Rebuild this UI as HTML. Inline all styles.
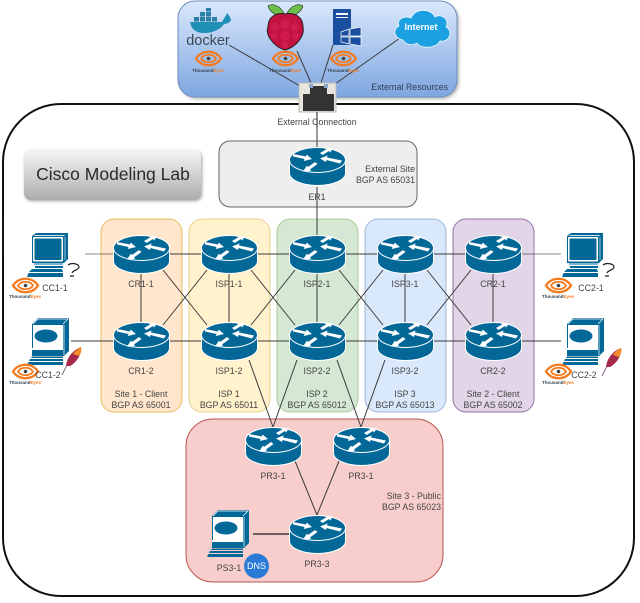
<!DOCTYPE html>
<html><head><meta charset="utf-8"><style>
html,body{margin:0;padding:0;background:#fff}
svg{display:block;filter:blur(.35px)}
text{font-family:"Liberation Sans",sans-serif;font-size:8.8px;fill:#444}
.c{text-anchor:middle}.r{text-anchor:end}
.te{font-size:4.500px;font-weight:bold;fill:#345;text-anchor:middle}
.te tspan{fill:#f47b20}
.l line{stroke:#3a3a3a;stroke-width:1}
</style></head><body>
<svg width="640" height="603" viewBox="0 0 640 603" xmlns="http://www.w3.org/2000/svg">
<defs>
<linearGradient id="g1" x1="0" y1="0" x2="0" y2="1"><stop offset="0" stop-color="#dae8fc"/><stop offset="1" stop-color="#7ea6e0"/></linearGradient>
<linearGradient id="g2" x1="0" y1="0" x2="0" y2="1"><stop offset="0" stop-color="#f6f6f6"/><stop offset="1" stop-color="#adadad"/></linearGradient>
<filter id="sh" x="-10%" y="-10%" width="120%" height="130%"><feGaussianBlur stdDeviation="1.500"/></filter>
<symbol id="router" width="57" height="39" viewBox="0 0 57 39" overflow="visible">
<path d="M.5 13V26C.5 33 13 38.500 28.500 38.500S56.500 33 56.500 26V13Z" fill="#036897" stroke="#fff"/>
<ellipse cx="28.500" cy="13" rx="28" ry="12.500" fill="#036897" stroke="#fff"/>
<path d="M4 7L17 9.500 17.500 7.500 23 12 15 14 15.500 12 4 9.500ZM31 6L37 2.500 36 1 44 1.500 41 5.500 40 4 33.500 8ZM53 13.500L38 10.500 38.500 8.500 31 11.500 37 15 37.500 13 51 16.500ZM26 15L19 20 18 18.500 14 24.500 22 24 21 22.500 28.500 17Z" fill="#fff"/>
</symbol>
<symbol id="eye" width="27" height="15" viewBox="0 0 27 15" overflow="visible">
<path d="M1 7.500C7-1.500 20-1.500 26 7.500C20 16.500 7 16.500 1 7.500Z" fill="none" stroke="#f47b20" stroke-width="2.300"/>
<path d="M6 7.500C9 2.500 18 2.500 21 7.500C18 12.500 9 12.500 6 7.500Z" fill="none" stroke="#f47b20" stroke-width="1.800"/>
<circle cx="13.500" cy="7.500" r="1.800" fill="#444"/>
</symbol>
<symbol id="pc1" width="54" height="44" viewBox="0 0 54 44" overflow="visible">
<path d="M5 3L9 0H41V26L37 30H5Z" fill="#036897"/>
<path d="M8 2H38.500L36.500 3.200H6.500Z" fill="#cfe2ec"/>
<rect x="5.500" y="3.500" width="31" height="25.500" rx="1.500" fill="#fff" stroke="#036897"/>
<rect x="7.500" y="5.500" width="27" height="21.500" rx="1" fill="#036897"/>
<path d="M38 4V27" stroke="#cfe2ec" stroke-width=".7"/>
<rect x="7" y="30" width="29" height="2" fill="#7fb2cc"/>
<rect x="8" y="33" width="28" height="2" fill="#036897"/>
<path d="M5 36H35L36 39H2ZM1.500 40H36V44H0Z" fill="#036897"/>
<path d="M41 32C45 29 52 31 52 34C52 37 46 37 45 40M43 43L47 43" fill="none" stroke="#222" stroke-width="1.200"/>
</symbol>
<symbol id="pc2" width="46" height="47" viewBox="0 0 46 47" overflow="visible">
<path d="M5 6L11 0H42V33L37 38H5Z" fill="#036897"/>
<path d="M6 6L11 1H41L36 6" fill="none" stroke="#fff" stroke-width=".7"/>
<path d="M37 7V37" stroke="#fff" stroke-width=".7"/>
<rect x="6" y="7" width="30" height="23" fill="#fff"/>
<ellipse cx="19" cy="18" rx="11.500" ry="6.500" fill="#036897"/>
<rect x="5" y="30" width="31" height="2" fill="#fff"/>
<path d="M5 38.500H36L36 40H4ZM3 41H36V43H2ZM1.500 44H36V47H0Z" fill="#036897"/>
</symbol>
<symbol id="feather" width="20" height="30" viewBox="0 0 20 30" overflow="visible">
<path d="M0 29L6 17" stroke="#8a6a8a" fill="none"/>
<path d="M4 20C5 11 11 4 19 1C20 8 15 16 8 20Z" fill="#a52a4a"/>
<path d="M11 8C13 5 16 2 19 1C20 4 19 7 17 10Z" fill="#f28c28"/>
</symbol>
</defs>

<rect x="180" y="3" width="279" height="96" rx="17" fill="#777" opacity=".55" filter="url(#sh)"/>
<rect x="178" y="1" width="279" height="96" rx="17" fill="url(#g1)" stroke="#6c8ebf"/>
<rect x="3" y="104" width="631" height="492" rx="58" fill="#fff" stroke="#111" stroke-width="2"/>

<rect x="219" y="141" width="198" height="66" rx="11" fill="#eee" stroke="#666"/>
<rect x="101" y="219" width="81" height="193" rx="13" fill="#ffe6cc" stroke="#d79b00" stroke-opacity=".6"/>
<rect x="189" y="219" width="81" height="193" rx="13" fill="#fff2cc" stroke="#d6b656" stroke-opacity=".6"/>
<rect x="277" y="219" width="81" height="193" rx="13" fill="#d5e8d4" stroke="#82b366" stroke-opacity=".6"/>
<rect x="365" y="219" width="81" height="193" rx="13" fill="#dae8fc" stroke="#6c8ebf" stroke-opacity=".6"/>
<rect x="453" y="219" width="81" height="193" rx="13" fill="#e1d5e7" stroke="#9673a6"/>
<rect x="186" y="419" width="257" height="163" rx="27" fill="#f8cecc" stroke="#b85450"/>

<rect x="25" y="151" width="177" height="50" rx="7" fill="#888" opacity=".8" filter="url(#sh)"/>
<rect x="24" y="149" width="177" height="51" rx="7" fill="url(#g2)"/>
<text x="113" y="180" class="c" style="font-size:17.500px;fill:#2a2a2a">Cisco Modeling Lab</text>

<g class="l">
<line x1="229" y1="45" x2="300" y2="86"/><line x1="297" y1="51" x2="311" y2="83"/>
<line x1="333" y1="45" x2="321" y2="83"/><line x1="400" y1="38" x2="335" y2="84"/>
<line x1="317" y1="112" x2="317" y2="147"/><line x1="317" y1="187" x2="317" y2="235"/>
<line x1="85" y1="254" x2="113" y2="254" stroke-opacity=".6"/><line x1="71" y1="341" x2="113" y2="341"/>
<line x1="169" y1="254" x2="201" y2="254"/><line x1="257" y1="254" x2="289" y2="254"/><line x1="345" y1="254" x2="377" y2="254"/><line x1="433" y1="254" x2="465" y2="254"/>
<line x1="169" y1="341" x2="201" y2="341"/><line x1="257" y1="341" x2="289" y2="341"/><line x1="345" y1="341" x2="377" y2="341"/><line x1="433" y1="341" x2="465" y2="341"/>
<line x1="521" y1="254" x2="561" y2="254" stroke-opacity=".6"/><line x1="521" y1="341" x2="561" y2="341"/>
<line x1="141" y1="273" x2="141" y2="322"/><line x1="229" y1="273" x2="229" y2="322"/><line x1="317" y1="273" x2="317" y2="322"/><line x1="405" y1="273" x2="405" y2="322"/><line x1="493" y1="273" x2="493" y2="322"/>
<line x1="163" y1="270" x2="207" y2="325"/><line x1="163" y1="325" x2="207" y2="270"/>
<line x1="251" y1="270" x2="295" y2="325"/><line x1="251" y1="325" x2="295" y2="270"/>
<line x1="339" y1="270" x2="383" y2="325"/><line x1="339" y1="325" x2="383" y2="270"/>
<line x1="427" y1="270" x2="471" y2="325"/><line x1="427" y1="325" x2="471" y2="270"/>
<line x1="249" y1="360" x2="273" y2="427"/><line x1="297" y1="360" x2="273" y2="427"/>
<line x1="337" y1="360" x2="361" y2="427"/><line x1="385" y1="360" x2="361" y2="427"/>
<line x1="295" y1="461" x2="317" y2="515"/><line x1="339" y1="461" x2="317" y2="515"/>
<line x1="253" y1="534" x2="289" y2="534" stroke="#666" style="stroke-width:1.500"/>
</g>

<use href="#router" x="289" y="147"/>
<use href="#router" x="113" y="235"/><use href="#router" x="201" y="235"/><use href="#router" x="289" y="235"/><use href="#router" x="377" y="235"/><use href="#router" x="465" y="235"/>
<use href="#router" x="113" y="322"/><use href="#router" x="201" y="322"/><use href="#router" x="289" y="322"/><use href="#router" x="377" y="322"/><use href="#router" x="465" y="322"/>
<use href="#router" x="245" y="427"/><use href="#router" x="333" y="427"/><use href="#router" x="289" y="515"/>

<!-- top icons -->
<path d="M190 22H222C224 18 226 16 227 13C229 16 231 17 230 19C233 18 230 24 224 24C220 30 212 33 204 33C196 33 191 29 190 22Z" fill="#1f8fb5"/>
<g fill="#2c7fa5"><rect x="194" y="17" width="5" height="4.500"/><rect x="200" y="17" width="5" height="4.500"/><rect x="206" y="17" width="5" height="4.500"/><rect x="212" y="17" width="5" height="4.500"/><rect x="200" y="12" width="5" height="4.500"/><rect x="206" y="12" width="5" height="4.500"/><rect x="206" y="8" width="5" height="3.500"/></g>
<text x="208" y="45" class="c" style="font-size:14.500px;fill:#3b4a55">docker</text>

<path d="M285 15C279 3 271 4 268 6C270 12 276 17 285 15ZM286 15C292 3 300 4 303 6C301 12 295 17 286 15Z" fill="#6cc04a" stroke="#222" stroke-width=".6"/>
<path d="M285 14C295 12 303 17 303 27C305 35 297 47 285 50C274 47 265 35 268 27C268 17 276 12 285 14Z" fill="#c2123f" stroke="#222" stroke-width="1"/>
<g fill="#d11a50"><circle cx="285" cy="24" r="5"/><circle cx="275" cy="27" r="4"/><circle cx="295" cy="27" r="4"/><circle cx="285" cy="36" r="5"/><circle cx="274" cy="36" r="3.500"/><circle cx="296" cy="36" r="3.500"/><circle cx="285" cy="45" r="3.500"/></g>

<rect x="333" y="9" width="18" height="36" fill="#1a4fa0"/>
<rect x="336" y="13" width="12" height="2" fill="#fff"/><rect x="336" y="17" width="12" height="1" fill="#fff"/>
<path d="M341 32L349 29V36H341ZM350 29L361 27V36H350ZM341 37H349V44L341 42ZM350 37H361V46L350 44Z" fill="#1a4fa0" stroke="#fff" stroke-width=".7"/>

<path d="M403 40C394 39 392 29 399 26C396 19 405 15 411 18C415 8 431 8 435 17C442 13 450 20 446 27C454 31 449 43 440 41C436 49 420 49 417 43C412 46 406 45 403 40Z" fill="#1ba1e2" stroke="#fff" stroke-width=".7"/>
<text x="421" y="30" class="c" style="font-weight:bold;fill:#fff;font-size:9px">Internet</text>

<use href="#eye" x="195" y="51"/><use href="#eye" x="272" y="51"/><use href="#eye" x="330" y="51"/>
<text x="208" y="72" class="te">Thousand<tspan>Eyes</tspan></text>
<text x="285" y="72" class="te">Thousand<tspan>Eyes</tspan></text>
<text x="343" y="72" class="te">Thousand<tspan>Eyes</tspan></text>
<text x="448" y="90" class="r" style="fill:#2d3f55">External Resources</text>

<rect x="299" y="83" width="37" height="29" fill="#e8e6dc" stroke="#bbb"/>
<path d="M303 94H310V86H327V94H334V111H303Z" fill="#333"/>
<rect x="309" y="84" width="4" height="4" fill="#8aa8c8"/><rect x="324" y="84" width="4" height="4" fill="#8aa8c8"/>
<line x1="317" y1="112" x2="317" y2="128" stroke="#222"/>
<text x="317" y="125" class="c">External Connection</text>

<!-- hosts -->
<use href="#pc1" x="27" y="233"/><use href="#pc2" x="27" y="318"/><use href="#feather" x="62" y="346"/>
<use href="#pc1" x="562" y="233"/><use href="#pc2" x="562" y="318"/><use href="#feather" x="602" y="347"/>
<use href="#pc2" x="207" y="510"/>
<circle cx="256.500" cy="566" r="12.500" fill="#2a7bd6"/><text x="256.500" y="569" class="c" style="fill:#fff;font-size:9px">DNS</text>

<use href="#eye" x="12" y="278"/><use href="#eye" x="12" y="364"/><use href="#eye" x="545" y="278"/><use href="#eye" x="545" y="364"/>
<text x="25" y="298" class="te">Thousand<tspan>Eyes</tspan></text>
<text x="25" y="384" class="te">Thousand<tspan>Eyes</tspan></text>
<text x="558" y="298" class="te">Thousand<tspan>Eyes</tspan></text>
<text x="558" y="384" class="te">Thousand<tspan>Eyes</tspan></text>

<text x="55" y="291" class="c">CC1-1</text><text x="48" y="378" class="c">CC1-2</text>
<text x="591" y="291" class="c">CC2-1</text><text x="584" y="378" class="c">CC2-2</text>

<text x="317" y="200" class="c">ER1</text>
<text x="415" y="172" class="r">External Site</text><text x="415" y="183" class="r">BGP AS 65031</text>
<text x="141" y="287" class="c">CR1-1</text><text x="229" y="287" class="c">ISP1-1</text><text x="317" y="287" class="c">ISP2-1</text><text x="405" y="287" class="c">ISP3-1</text><text x="493" y="287" class="c">CR2-1</text>
<text x="141" y="374" class="c">CR1-2</text><text x="229" y="374" class="c">ISP1-2</text><text x="317" y="374" class="c">ISP2-2</text><text x="405" y="374" class="c">ISP3-2</text><text x="493" y="374" class="c">CR2-2</text>
<text x="141" y="397" class="c">Site 1 - Client</text><text x="141" y="408" class="c">BGP AS 65001</text>
<text x="229" y="397" class="c">ISP 1</text><text x="229" y="408" class="c">BGP AS 65011</text>
<text x="317" y="397" class="c">ISP 2</text><text x="317" y="408" class="c">BGP AS 65012</text>
<text x="405" y="397" class="c">ISP 3</text><text x="405" y="408" class="c">BGP AS 65013</text>
<text x="493" y="397" class="c">Site 2 - Client</text><text x="493" y="408" class="c">BGP AS 65002</text>
<text x="273" y="479" class="c">PR3-1</text><text x="361" y="479" class="c">PR3-1</text><text x="317" y="567" class="c">PR3-3</text>
<text x="229" y="571" class="c">PS3-1</text>
<text x="441" y="499" class="r">Site 3 - Public</text><text x="441" y="510" class="r">BGP AS 65023</text>
</svg>
</body></html>
